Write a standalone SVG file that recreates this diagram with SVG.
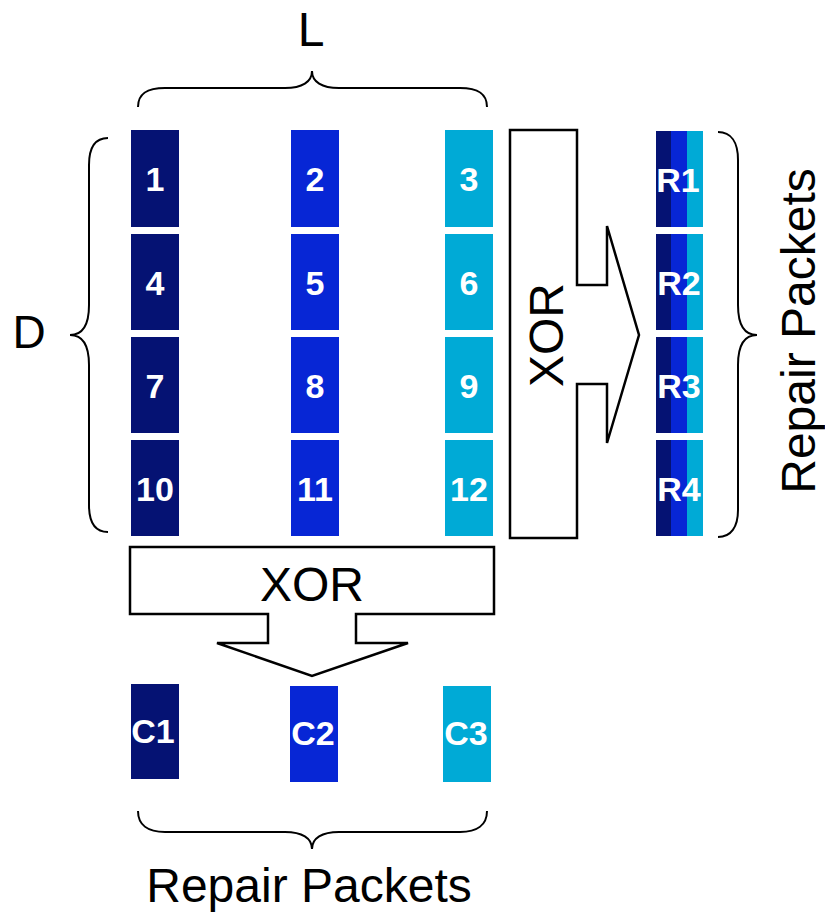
<svg xmlns="http://www.w3.org/2000/svg" width="825" height="914" viewBox="0 0 825 914">
<style>
.d{fill:#051273}.m{fill:#0726D5}.c{fill:#00AAD6}
.lb{font-family:"Liberation Sans",Arial,sans-serif;font-weight:bold;font-size:34px;fill:#fff;text-anchor:middle}
.t{font-family:"Liberation Sans",Arial,sans-serif;font-size:48px;fill:#000;text-anchor:middle}
.br{fill:none;stroke:#000;stroke-width:2}
.ar{fill:#fff;stroke:#000;stroke-width:2.5}
</style>
<rect width="825" height="914" fill="#fff"/>
<g id="connectors">
<path class="br" d="M138,107 C138,93 148,88 165,88 L285,88 C302,88 312,82 312,71 C312,82 322,88 339,88 L460,88 C477,88 487,93 487,107"/>
<path class="br" d="M108,138 C95,138 89,148 89,165 L89,305 C89,325 82,335 70,335 C82,335 89,345 89,365 L89,505 C89,522 95,532 108,532"/>
<path class="br" d="M718,132 C731,132 738,142 738,160 L738,305 C738,325 745,335 757,335 C745,335 738,345 738,365 L738,510 C738,527 731,537 718,537"/>
<path class="br" d="M138,811 C138,825 148,832 165,832 L285,832 C302,832 312,838 312,849 C312,838 322,832 339,832 L460,832 C477,832 487,825 487,811"/>
</g>
<g id="xor-right">
<polygon class="ar" points="510,130 577,130 577,285 607,285 607,226 639,335 607,443 607,384 577,384 577,538 510,538"/>
<text class="t" transform="translate(563,335) rotate(-90)">XOR</text>
</g>
<g id="xor-bottom">
<polygon class="ar" points="130,547 494,547 494,614 356,614 356,643 408,643 312,676 217,643 268,643 268,614 130,614"/>
<text class="t" x="312" y="601">XOR</text>
</g>
<g id="label-L"><text class="t" x="311" y="46">L</text></g>
<g id="label-D"><text class="t" x="29" y="348" style="font-size:46px">D</text></g>
<g id="label-rp-right"><text class="t" transform="translate(815,331) rotate(-90)">Repair Packets</text></g>
<g id="label-rp-bottom"><text class="t" x="309" y="902">Repair Packets</text></g>
<g id="p1"><rect class="d" x="131" y="130" width="48" height="97"/><text class="lb" x="155" y="191">1</text></g>
<g id="p2"><rect class="m" x="291" y="130" width="48" height="97"/><text class="lb" x="315" y="191">2</text></g>
<g id="p3"><rect class="c" x="445" y="130" width="48" height="97"/><text class="lb" x="469" y="191">3</text></g>
<g id="p4"><rect class="d" x="131" y="234" width="48" height="96"/><text class="lb" x="155" y="295">4</text></g>
<g id="p5"><rect class="m" x="291" y="234" width="48" height="96"/><text class="lb" x="315" y="295">5</text></g>
<g id="p6"><rect class="c" x="445" y="234" width="48" height="96"/><text class="lb" x="469" y="295">6</text></g>
<g id="p7"><rect class="d" x="131" y="337" width="48" height="96"/><text class="lb" x="155" y="398">7</text></g>
<g id="p8"><rect class="m" x="291" y="337" width="48" height="96"/><text class="lb" x="315" y="398">8</text></g>
<g id="p9"><rect class="c" x="445" y="337" width="48" height="96"/><text class="lb" x="469" y="398">9</text></g>
<g id="p10"><rect class="d" x="131" y="440" width="48" height="96"/><text class="lb" x="155" y="501">10</text></g>
<g id="p11"><rect class="m" x="291" y="440" width="48" height="96"/><text class="lb" x="315" y="501">11</text></g>
<g id="p12"><rect class="c" x="445" y="440" width="48" height="96"/><text class="lb" x="469" y="501">12</text></g>
<g id="R1"><rect class="d" x="656" y="131" width="16" height="96"/><rect class="m" x="671" y="131" width="17" height="96"/><rect class="c" x="687" y="131" width="16" height="96"/><text class="lb" x="678" y="192">R1</text></g>
<g id="R2"><rect class="d" x="656" y="234" width="16" height="96"/><rect class="m" x="671" y="234" width="17" height="96"/><rect class="c" x="687" y="234" width="16" height="96"/><text class="lb" x="679" y="295">R2</text></g>
<g id="R3"><rect class="d" x="656" y="337" width="16" height="96"/><rect class="m" x="671" y="337" width="17" height="96"/><rect class="c" x="687" y="337" width="16" height="96"/><text class="lb" x="679" y="398">R3</text></g>
<g id="R4"><rect class="d" x="656" y="440" width="16" height="96"/><rect class="m" x="671" y="440" width="17" height="96"/><rect class="c" x="687" y="440" width="16" height="96"/><text class="lb" x="679" y="501">R4</text></g>
<g id="C1"><rect class="d" x="131" y="684" width="48" height="95"/><text class="lb" x="153" y="743">C1</text></g>
<g id="C2"><rect class="m" x="290" y="686" width="48" height="96"/><text class="lb" x="313" y="745">C2</text></g>
<g id="C3"><rect class="c" x="443" y="686" width="48" height="96"/><text class="lb" x="466" y="745">C3</text></g>
</svg>
